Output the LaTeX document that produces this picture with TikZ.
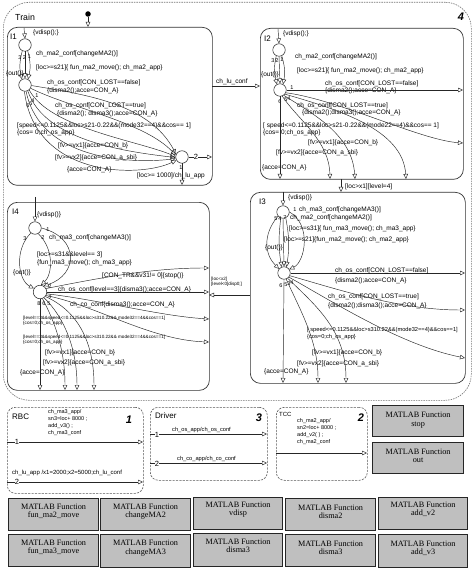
\documentclass[tikz,border=0pt]{standalone}
\usepackage{fontspec}
\setmainfont{Liberation Sans}
\newfontfamily\tnr{Liberation Serif}
\usetikzlibrary{arrows.meta}
\begin{document}
\begin{tikzpicture}[x=1pt,y=-1pt,
  lbl/.style={font=\fontsize{6.5}{7}\selectfont, inner sep=0pt, anchor=west},
  slbl/.style={font=\fontsize{5.7}{6}\selectfont, inner sep=0pt, anchor=west},
  tlbl/.style={font=\fontsize{4.6}{5}\selectfont, inner sep=0pt, anchor=west},
  num/.style={font=\fontsize{5.5}{6}\selectfont, inner sep=0pt},
  mnum/.style={font=\fontsize{7.5}{8}\selectfont, inner sep=0.3pt, fill=white},
  bignum/.style={font=\bfseries\itshape\fontsize{11}{11}\selectfont, inner sep=0pt},
  ttl/.style={font=\fontsize{8}{8}\selectfont, inner sep=0pt, anchor=west},
  stc/.style={circle, draw=black!85, line width=0.5pt, minimum size=12.5pt, inner sep=0pt},
  tr/.style={draw=black!85, line width=0.45pt, -{Triangle[open,length=5pt,width=4.5pt]}},
  sbox/.style={draw=black!80, line width=0.7pt, rounded corners=10pt, anchor=north west, inner sep=0pt},
  cbox/.style={draw=black!65, dash pattern=on 2.2pt off 1.2pt, line width=0.6pt, rounded corners=8pt, anchor=north west, inner sep=0pt},
  mfun/.style={draw=black!85, fill=black!25, line width=1.2pt, anchor=north west, inner sep=0pt},
  mtxt/.style={font=\tnr\fontsize{8.2}{8.4}\selectfont, align=center, inner sep=0pt},
]
\useasboundingbox (0,0) rectangle (474,569);
\fill[white] (0,0) rectangle (474,569);

% ---------------- Train chart
\node[draw=black!55, dash pattern=on 1.5pt off 1pt, line width=0.6pt, rounded corners=26pt, anchor=north west, minimum width=468pt, minimum height=398pt, inner sep=0pt] (train) at (3,2) {};
\node[ttl, font=\fontsize{8.8}{9}\selectfont] (trainlbl) at (15,17) {Train};
\node[bignum] (n4) at (461,17) {4};
\node[circle, fill=black, inner sep=0pt, minimum size=5.5pt] (dot) at (88,14) {};

% ---------------- I1
\node[sbox, minimum width=205pt, minimum height=158pt] (I1) at (7,27) {};
\coordinate (i1top) at (88,27);
\draw[tr] (dot) -- (i1top);
\node[ttl] (i1lbl) at (10,37) {I1};
\node[stc] (c1a) at (25,45) {};
\node[stc] (c1b) at (25,85) {};
\node[stc] (j1) at (182,157) {};
\coordinate (d1) at (24,28);
\draw[tr] (d1) -- (c1a.north);
\node[lbl] (v1) at (33,33) {\{vdisp();\}};
\draw[tr] (c1a.245) to[bend right=14] (c1b.118);
\draw[tr] (c1a.270) -- (c1b.90);
\draw[tr] (c1a.295) to[bend left=14] (c1b.62);
\node[num] (i1n3) at (20,58) {3};
\node[num] (i1n2) at (24.5,58) {2};
\node[num] (i1n1) at (29.5,57) {1};
\node[lbl] (i1t1) at (36,54) {ch\_ma2\_conf[changeMA2()]};
\node[lbl] (i1t2) at (36,68) {[loc>=s21]\{ fun\_ma2\_move(); ch\_ma2\_app\}};
\node[lbl] (i1out) at (6,74) {\{out()\}};
\node[lbl] (i1t3) at (47,83) {ch\_os\_conf[CON\_LOST==false]};
\node[lbl] (i1t4) at (47,91) {\{disma2();acce=CON\_A\}};
\node[num] (i1m1) at (37,96) {1};
\node[num] (i1m4) at (33,101) {4};
\node[num] (i1m5) at (31,104) {5};
\node[num] (i1m6) at (28,106) {6};
\node[lbl] (i1t5) at (55,106) {ch\_os\_conf[CON\_LOST==true]};
\node[lbl] (i1t6) at (57,114) {\{disma2(); disma3();acce=CON\_A\}};
\node[lbl] (i1t7) at (17,126) {[speed<=0.1125\&\&loc>s21-0.22\&\&(mode32==4)\&\&cos== 1]};
\node[lbl] (i1t8) at (17,133) {\{cos= 0;ch\_os\_app\}};
\node[lbl] (i1t9) at (58,146) {[fv>=vx1]\{acce=CON\_b\}};
\node[lbl] (i1t10) at (55,158) {[fv>=vx2]\{acce=CON\_a\_sbi\}};
\node[lbl] (i1t11) at (67,170) {\{acce=CON\_A\}};
\draw[tr] (c1b.-5) .. controls (90,95) and (150,105) .. (j1.155);
\draw[tr] (c1b.-30) .. controls (70,108) and (145,122) .. (j1.165);
\draw[tr] (c1b.-50) .. controls (50,128) and (135,140) .. (j1.175);
\draw[tr] (c1b.-65) .. controls (45,142) and (130,152) .. (j1.185);
\draw[tr] (c1b.-80) .. controls (40,160) and (130,164) .. (j1.195);
\draw[tr] (c1b.-95) .. controls (35,178) and (140,178) .. (j1.210);
\coordinate (i1e) at (212,157);
\coordinate (i1s) at (182,185);
\draw[tr] (j1.east) -- (i1e);
\node[mnum] (j1n2) at (196,157) {2};
\draw[tr] (j1.south) -- (i1s);
\node[num] (j1n1) at (181,168) {1};
\node[lbl] (i1t12) at (137,176) {[loc>= 1000]/ch\_lu\_app};

% I1 -> I2
\coordinate (i1r) at (212,86);
\coordinate (i2l) at (260,86);
\draw[tr] (i1r) -- (i2l);
\node[lbl] (lu) at (216,82) {ch\_lu\_conf};

% ---------------- I2
\node[sbox, minimum width=203pt, minimum height=151pt] (I2) at (260,28) {};
\node[ttl] (i2lbl) at (264,39) {I2};
\node[stc] (c2a) at (279,50) {};
\node[stc] (c2b) at (280,90) {};
\coordinate (d2) at (278,29);
\draw[tr] (d2) -- (c2a.north);
\node[lbl] (v2) at (283,34) {\{vdisp();\}};
\draw[tr] (c2a.245) to[bend right=14] (c2b.118);
\draw[tr] (c2a.270) -- (c2b.90);
\draw[tr] (c2a.295) to[bend left=14] (c2b.62);
\node[num] (i2n3) at (273,61) {3};
\node[num] (i2n2) at (277,61) {2};
\node[num] (i2n1) at (282,60) {1};
\node[lbl] (i2t1) at (295,57) {ch\_ma2\_conf[changeMA2()]};
\node[lbl] (i2t2) at (297,71) {[loc>=s21]\{ fun\_ma2\_move(); ch\_ma2\_app\}};
\node[lbl] (i2out) at (261,75) {\{out()\}};
\node[lbl] (i2t3) at (325,84) {ch\_os\_conf[CON\_LOST==false]};
\node[lbl] (i2t4) at (325,91) {\{disma2();acce=CON\_A\}};
\coordinate (i2r1) at (463,90);
\draw[tr] (c2b.east) -- (i2r1);
\node[num] (i2m1) at (292,88) {1};
\node[num] (i2m6) at (280,102) {6};
\node[num] (i2m5) at (286,100) {5};
\node[num] (i2m4) at (289,99) {4};
\node[lbl] (i2t5) at (297,106) {ch\_os\_conf[CON\_LOST==true]};
\node[lbl] (i2t6) at (302,113) {\{disma2();disma3();acce=CON\_A\}};
\node[lbl] (i2t7) at (263,126) {[ speed<=0.1125\&\&loc>s21-0.22\&\&(mode22==4)\&\&cos== 1]};
\node[lbl] (i2t8) at (263,133) {\{cos= 0;ch\_os\_app\}};
\node[lbl] (i2t9) at (308,143) {[fv>=vx1]\{acce=CON\_b\}};
\node[lbl] (i2t10) at (276,153) {[fv>=vx2]\{acce=CON\_a\_sbi\}};
\node[lbl] (i2t11) at (262,168) {\{acce=CON\_A\}};
\coordinate (i2r2) at (463,143);
\coordinate (i2b1) at (280,179);
\coordinate (i2b2) at (330,179);
\coordinate (i2b3) at (355,179);
\coordinate (i2b4) at (406,179);
\draw[tr] (c2b.-25) .. controls (340,100) and (420,140) .. (i2r2);
\draw[tr] (c2b.-40) .. controls (340,110) and (403,130) .. (i2b4);
\draw[tr] (c2b.-55) .. controls (315,115) and (352,135) .. (i2b3);
\draw[tr] (c2b.-70) .. controls (298,120) and (329,140) .. (i2b2);
\draw[tr] (c2b.south) -- (i2b1);

% I2 -> I3
\coordinate (i2bm) at (341,179);
\coordinate (i3tm) at (341,192);
\draw[tr] (i2bm) -- (i3tm);
\node[lbl] (lx1) at (345,187) {[loc>x1][level=4]};

% ---------------- I3
\node[sbox, minimum width=215pt, minimum height=191pt] (I3) at (250,192) {};
\node[ttl] (i3lbl) at (259,202) {I3};
\node[stc] (c3a) at (283,212) {};
\node[stc] (c3b) at (284,273) {};
\coordinate (d3) at (283,192);
\draw[tr] (d3) -- (c3a.north);
\node[lbl] (v3) at (288,198) {\{vdisp()\}};
\draw[tr] (c3a.220) .. controls (262,235) and (265,255) .. (c3b.140);
\draw[tr] (c3a.250) to[bend right=8] (c3b.112);
\draw[tr] (c3a.270) -- (c3b.90);
\draw[tr] (c3a.295) to[bend left=10] (c3b.68);
\draw[tr] (c3a.east) .. controls (312,225) and (305,262) .. (c3b.35);
\node[num] (i3n1) at (295,210) {1};
\node[num] (i3n5) at (276,219) {5};
\node[num] (i3n4) at (280,219) {4};
\node[num] (i3n7) at (285,218) {7};
\node[lbl] (i3t1) at (299,210) {ch\_ma3\_conf[changeMA3()]};
\node[lbl] (i3t2) at (290,218) {ch\_ma2\_conf[changeMA2()]};
\node[lbl] (i3t3) at (289,229) {[loc>=s31]\{ fun\_ma3\_move(); ch\_ma3\_app\}};
\node[lbl] (i3t4) at (284,240) {[loc>=s21]\{fun\_ma2\_move(); ch\_ma2\_app\}};
\node[lbl] (i3out) at (265,248) {\{out()\}};
\coordinate (i3r1) at (465,273);
\draw[tr] (c3b.east) -- (i3r1);
\node[lbl] (i3t5) at (335,271) {ch\_os\_conf[CON\_LOST==false]};
\node[lbl] (i3t6) at (335,281) {\{disma2();acce=CON\_A\}};
\node[num] (i3m6) at (281,286) {6};
\node[num] (i3m5) at (286,285) {5};
\node[num] (i3m3) at (289,284) {3};
\node[num] (i3m4) at (292,283) {4};
\node[lbl] (i3t7) at (328,297) {ch\_os\_conf[CON\_LOST==true]};
\node[lbl] (i3t8) at (328,306) {\{disma2();disma3();acce=CON\_A\}};
\node[slbl] (i3t9) at (307,330) {[ speed<=0.1125\&\&loc>s310.22\&\&(mode32==4)\&\&cos==1]};
\node[slbl] (i3t10) at (307,337) {\{cos=0;ch\_os\_app\}};
\node[lbl] (i3t11) at (312,353) {[fv>=vx1]\{acce=CON\_b\}};
\node[lbl] (i3t12) at (297,364) {[fv>=vx2]\{acce=CON\_a\_sbi\}};
\node[lbl] (i3t13) at (264,372) {\{acce=CON\_A\}};
\coordinate (i3r2) at (465,310);
\coordinate (i3r3) at (465,358);
\coordinate (i3b1) at (283,383);
\coordinate (i3b2) at (318,383);
\coordinate (i3b3) at (346,383);
\draw[tr] (c3b.-25) .. controls (340,290) and (400,310) .. (i3r2);
\draw[tr] (c3b.-40) .. controls (330,300) and (400,345) .. (i3r3);
\draw[tr] (c3b.-55) .. controls (315,305) and (346,330) .. (i3b3);
\draw[tr] (c3b.-70) .. controls (300,310) and (318,340) .. (i3b2);
\draw[tr] (c3b.south) -- (i3b1);

% ---------------- I4
\node[sbox, minimum width=202pt, minimum height=188pt] (I4) at (7,202) {};
\node[ttl] (i4lbl) at (12,212) {I4};
\node[stc] (c4a) at (35,228) {};
\node[stc, minimum size=13.5pt] (c4b) at (40,292) {};
\coordinate (d4) at (35,197);
\draw[tr] (d4) -- (c4a.north);
\node[lbl] (v4) at (37,215) {\{vdisp()\}};
\draw[tr] (c4a.east) .. controls (80,238) and (78,275) .. (c4b.60);
\draw[tr] (c4a.-60) .. controls (55,250) and (52,275) .. (c4b.82);
\draw[tr] (c4a.230) .. controls (14,250) and (18,280) .. (c4b.150);
\node[num] (i4n1) at (48,230) {1};
\node[num] (i4n2) at (43,238) {2};
\node[num] (i4n3) at (25,239) {3};
\node[lbl] (i4t1) at (49,238) {ch\_ma3\_conf[changeMA3()]};
\node[lbl] (i4t2) at (37,255) {[loc>=s31\&\&level== 3]};
\node[lbl] (i4t3) at (37,263) {\{fun\_ma3\_move(); ch\_ma3\_app\}};
\node[lbl] (i4out) at (13,273) {\{out()\}};
\node[lbl] (i4t4) at (102,276) {[CON\_TR\&\&v31!= 0]\{stop()\}};
\node[lbl] (i4t5) at (58,290) {ch\_os\_conf[level==3]\{disma3();acce=CON\_A\}};
\node[num] (i4m2) at (50,287) {2};
\node[num] (i4m4) at (50,297) {4};
\node[num] (i4m8) at (39,304) {8};
\node[num] (i4m6) at (44,304) {6};
\node[num] (i4m5) at (49,304) {5};
\coordinate (i4r1) at (209,268);
\coordinate (i4r2) at (209,292);
\draw[tr] (c4b.30) .. controls (100,278) and (150,268) .. (i4r1);
\draw[tr] (c4b.east) -- (i4r2);
\node[lbl] (i4t6) at (70,305) {ch\_co\_conf\{disma3();acce=CON\_A\}};
\node[tlbl] (i4t7) at (23,318) {[level==3\&\&speed<=0.1125\&\&loc>s310.22\&\& mode32==4\&\&cos==1]};
\node[tlbl] (i4t8) at (23,323) {\{cos=0;ch\_os\_app\}};
\node[tlbl] (i4t9) at (23,337) {[level==3\&\&speed<=0.1125\&\&loc>s310.22\&\& mode32==4\&\&cos==1]};
\node[tlbl] (i4t10) at (23,342) {\{cos=0;ch\_os\_app\}};
\node[lbl] (i4t11) at (45,353) {[fv>=vx1]\{acce=CON\_b\}};
\node[lbl] (i4t12) at (43,363) {[fv>=vx2]\{acce=CON\_a\_sbi\}};
\node[lbl] (i4t13) at (20,373) {\{acce=CON\_A\}};
\coordinate (i4r3) at (209,319);
\coordinate (i4r4) at (209,342);
\coordinate (i4b1) at (40,390);
\coordinate (i4b2) at (65,390);
\coordinate (i4b3) at (77,390);
\coordinate (i4b4) at (94,390);
\draw[tr] (c4b.-15) .. controls (100,300) and (160,316) .. (i4r3);
\draw[tr] (c4b.-30) .. controls (95,305) and (150,340) .. (i4r4);
\draw[tr] (c4b.-40) .. controls (80,312) and (94,345) .. (i4b4);
\draw[tr] (c4b.-55) .. controls (65,318) and (77,350) .. (i4b3);
\draw[tr] (c4b.-70) .. controls (55,322) and (65,350) .. (i4b2);
\draw[tr] (c4b.south) -- (i4b1);

% I3 -> I4
\coordinate (i3l) at (250,295);
\coordinate (i4r) at (209,295);
\draw[tr] (i3l) -- (i4r);
\node[tlbl] (lx2a) at (211,279) {[loc<x2]};
\node[tlbl] (lx2b) at (211,284) {[level<0]disp0;]};

% ---------------- RBC
\node[cbox, minimum width=136pt, minimum height=86pt] (rbc) at (7,407) {};
\node[ttl] (rbclbl) at (12,417) {RBC};
\node[bignum] (n1) at (129,420) {1};
\node[slbl, align=left, anchor=north west, font=\fontsize{5.5}{7.2}\selectfont] (rbct) at (48,409) {ch\_ma3\_app/\\sn3=loc+ 8000 ;\\add\_v3() ;\\ch\_ma3\_conf};
\coordinate (rbc1a) at (7,442);
\coordinate (rbc1b) at (143,442);
\draw[tr] (rbc1a) -- (rbc1b);
\node[mnum] (rbcn1) at (17,442) {1};
\node[slbl, font=\fontsize{6}{6}\selectfont] (rbct2) at (12,473) {ch\_lu\_app /x1=2000;x2=5000;ch\_lu\_conf};
\coordinate (rbc2a) at (7,482);
\coordinate (rbc2b) at (143,482);
\draw[tr] (rbc2a) -- (rbc2b);
\node[mnum] (rbcn2) at (17,482) {2};

% ---------------- Driver
\node[cbox, minimum width=117pt, minimum height=73pt] (drv) at (150,407) {};
\node[ttl] (drvlbl) at (155,416) {Driver};
\node[bignum] (n3) at (259,418) {3};
\coordinate (drv1a) at (150,434);
\coordinate (drv1b) at (267,434);
\draw[tr] (drv1a) -- (drv1b);
\node[mnum] (drvn1) at (157,435) {1};
\node[slbl] (drvt1) at (172,430) {ch\_os\_app/ch\_os\_conf};
\coordinate (drv2a) at (150,463);
\coordinate (drv2b) at (267,463);
\draw[tr] (drv2a) -- (drv2b);
\node[mnum] (drvn2) at (157,464) {2};
\node[slbl] (drvt2) at (177,459) {ch\_co\_app/ch\_co\_conf};

% ---------------- TCC
\node[cbox, minimum width=91pt, minimum height=73pt] (tcc) at (276,407) {};
\node[ttl, font=\fontsize{6}{6}\selectfont] (tcclbl) at (279,414) {TCC};
\node[bignum] (n2) at (361,418) {2};
\node[slbl, align=left, anchor=north west, font=\fontsize{5.5}{7.2}\selectfont] (tcct) at (297,418) {ch\_ma2\_app/\\sn2=loc+ 8000 ;\\add\_v2( ) ;\\ch\_ma2\_conf};
\coordinate (tcca) at (276,453);
\coordinate (tccb) at (367,453);
\draw[tr] (tcca) -- (tccb);

% ---------------- MATLAB functions
\node[mfun, minimum width=91pt, minimum height=31pt] (fstop) at (372,405) {};
\node[mtxt] (fstopt) at ([yshift=1pt]fstop.center) {MATLAB Function\\stop};
\node[mfun, minimum width=91pt, minimum height=31pt] (fout) at (372,442) {};
\node[mtxt] (foutt) at ([yshift=2pt]fout.center) {MATLAB Function\\out};

\node[mfun, minimum width=90pt, minimum height=32pt] (f11) at (8,498) {};
\node[mtxt] (f11t) at ([yshift=3pt]f11.center) {MATLAB Function\\fun\_ma2\_move};
\node[mfun, minimum width=90pt, minimum height=32pt] (f12) at (100,498) {};
\node[mtxt] (f12t) at ([yshift=3pt]f12.center) {MATLAB Function\\changeMA2};
\node[mfun, minimum width=89pt, minimum height=32pt] (f13) at (193,497) {};
\node[mtxt] (f13t) at ([yshift=4pt]f13.center) {MATLAB Function\\vdisp};
\node[mfun, minimum width=90pt, minimum height=32pt] (f14) at (285,498) {};
\node[mtxt] (f14t) at ([yshift=3pt]f14.center) {MATLAB Function\\disma2};
\node[mfun, minimum width=89pt, minimum height=32pt] (f15) at (378,497) {};
\node[mtxt] (f15t) at ([yshift=4pt]f15.center) {MATLAB Function\\add\_v2};

\node[mfun, minimum width=90pt, minimum height=32pt] (f21) at (8,534) {};
\node[mtxt] (f21t) at ([yshift=3pt]f21.center) {MATLAB Function\\fun\_ma3\_move};
\node[mfun, minimum width=90pt, minimum height=33pt] (f22) at (100,534) {};
\node[mtxt] (f22t) at ([yshift=3pt]f22.center) {MATLAB Function\\changeMA3};
\node[mfun, minimum width=89pt, minimum height=33pt] (f23) at (193,533) {};
\node[mtxt] (f23t) at ([yshift=4pt]f23.center) {MATLAB Function\\disma3};
\node[mfun, minimum width=90pt, minimum height=32pt] (f24) at (285,534) {};
\node[mtxt] (f24t) at ([yshift=3pt]f24.center) {MATLAB Function\\disma3};
\node[mfun, minimum width=89pt, minimum height=33pt] (f25) at (378,534) {};
\node[mtxt] (f25t) at ([yshift=3pt]f25.center) {MATLAB Function\\add\_v3};
\end{tikzpicture}
\end{document}
